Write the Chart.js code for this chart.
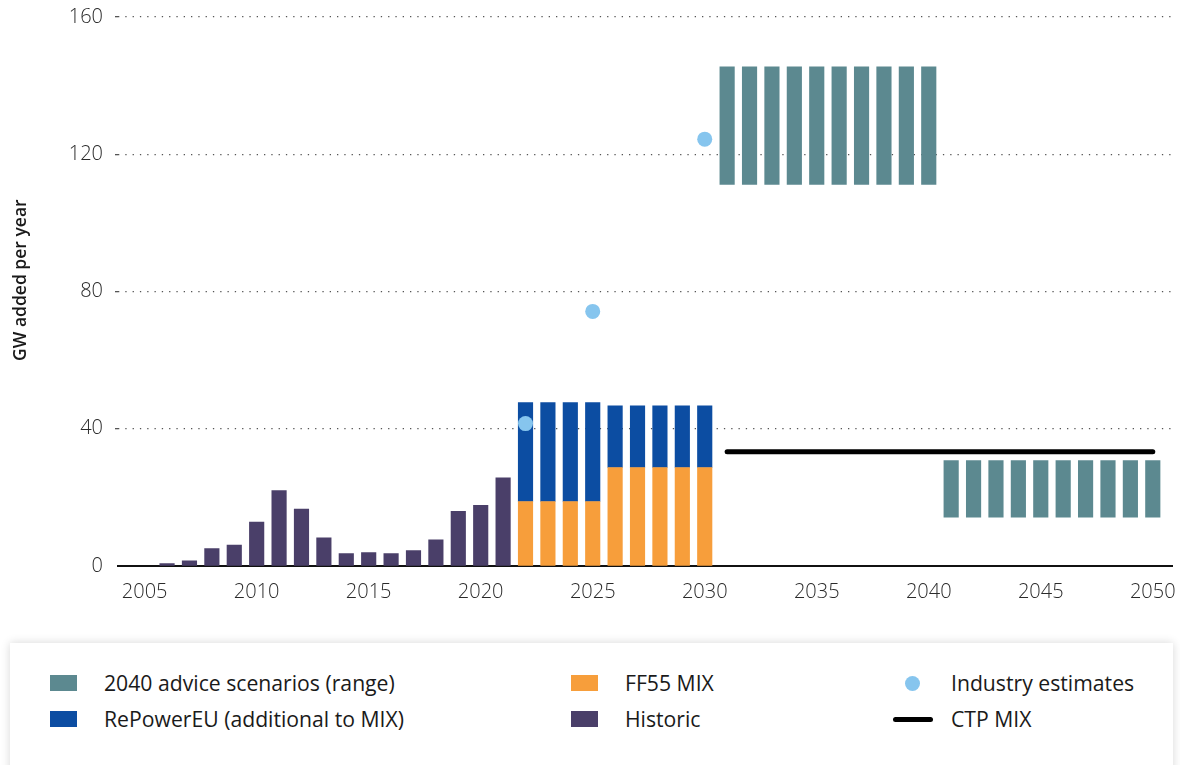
<!DOCTYPE html>
<html>
<head>
<meta charset="utf-8">
<script src="https://cdn.jsdelivr.net/npm/chart.js@4"></script>
<style>
  html, body { margin: 0; padding: 0; background: #fff; }
  body { width: 1180px; height: 765px; position: relative; overflow: hidden; font-family: "Open Sans", "Noto Sans", sans-serif; }
  #wrap { position: absolute; left: 0; top: 0; width: 1180px; height: 615px; }
  #legend { position: absolute; left: 10px; top: 643px; width: 1163px; height: 140px; background: #fff;
            box-shadow: 0 0 9px rgba(0,0,0,0.16); }
  .item { position: absolute; font-size: 21.2px; font-weight: 400; color: #1a1a1a; line-height: 26px; white-space: nowrap; }
  .sw { position: absolute; }
</style>
</head>
<body>
<div id="wrap"><canvas id="chart"></canvas></div>
<div id="legend"></div>
<script>
// categories / values (GW added per year)
var historicYears = [2006, 2007, 2008, 2009, 2010, 2011, 2012, 2013, 2014, 2015, 2016, 2017, 2018, 2019, 2020, 2021];
var historic = [0.7, 1.5, 5.1, 6.1, 12.8, 22.0, 16.6, 8.2, 3.6, 3.9, 3.6, 4.5, 7.6, 15.9, 17.7, 25.7];

var mixYears = [2022, 2023, 2024, 2025, 2026, 2027, 2028, 2029, 2030];
var ff55Mix = [18.8, 18.8, 18.8, 18.8, 28.7, 28.7, 28.7, 28.7, 28.7];
var rePowerEU = [28.8, 28.8, 28.8, 28.8, 18.0, 18.0, 18.0, 18.0, 18.0];

var adviceYears = [2031, 2032, 2033, 2034, 2035, 2036, 2037, 2038, 2039, 2040,
                   2041, 2042, 2043, 2044, 2045, 2046, 2047, 2048, 2049, 2050];
var adviceLow = [111.2, 111.2, 111.2, 111.2, 111.2, 111.2, 111.2, 111.2, 111.2, 111.2,
                 14.2, 14.2, 14.2, 14.2, 14.2, 14.2, 14.2, 14.2, 14.2, 14.2];
var adviceHigh = [145.5, 145.5, 145.5, 145.5, 145.5, 145.5, 145.5, 145.5, 145.5, 145.5,
                  30.7, 30.7, 30.7, 30.7, 30.7, 30.7, 30.7, 30.7, 30.7, 30.7];

var industryYears = [2022, 2025, 2030];
var industryEst = [41.5, 74.2, 124.4];

var ctpYears = [2031, 2050];
var ctpMix = [33.3, 33.3];

var xTicks = [2005, 2010, 2015, 2020, 2025, 2030, 2035, 2040, 2045, 2050];
var yTicks = [0, 40, 80, 120, 160];

var C_TEAL = '#5C8990', C_BLUE = '#0C4DA2', C_ORANGE = '#F79E3B', C_PURPLE = '#4A3F69', C_DOT = '#86C5EE';

function pts(xs, ys) { return xs.map(function (x, i) { return { x: x, y: ys[i] }; }); }

var barCommon = { barThickness: 14.5, grouped: false, borderWidth: 0, order: 2 };

var datasets = [
  Object.assign({ type: 'bar', label: 'Historic', data: pts(historicYears, historic),
    backgroundColor: C_PURPLE, stack: 'main' }, barCommon),
  Object.assign({ type: 'bar', label: 'FF55 MIX', data: pts(mixYears, ff55Mix),
    backgroundColor: C_ORANGE, stack: 'main' }, barCommon),
  Object.assign({ type: 'bar', label: 'RePowerEU (additional to MIX)', data: pts(mixYears, rePowerEU),
    backgroundColor: C_BLUE, stack: 'main' }, barCommon),
  Object.assign({ type: 'bar', label: '2040 advice scenarios (range)',
    data: adviceYears.map(function (y, i) { return { x: y, y: [adviceLow[i], adviceHigh[i]] }; }),
    backgroundColor: C_TEAL, stack: 'range' }, barCommon),
  { type: 'line', label: 'CTP MIX', data: pts(ctpYears, ctpMix), borderColor: '#000', borderWidth: 5,
    borderCapStyle: 'round', pointRadius: 0, fill: false, order: 1 },
  { type: 'line', label: 'Industry estimates', data: pts(industryYears, industryEst), showLine: false,
    pointRadius: 7.5, pointBackgroundColor: C_DOT, pointBorderWidth: 0, order: 0 }
];

var tickFont = { family: 'Open Sans', size: 20, weight: '300' };

var chart = new Chart(document.getElementById('chart'), {
  data: { datasets: datasets },
  options: {
    responsive: true,
    maintainAspectRatio: false,
    animation: false,
    layout: { padding: { top: 17, right: 2, bottom: 5, left: 0 } },
    plugins: { legend: { display: false }, tooltip: { enabled: false } },
    scales: {
      x: {
        type: 'linear',
        min: 2003.81,
        max: 2050.88,
        offset: false,
        stacked: true,
        afterBuildTicks: function (scale) { scale.ticks = xTicks.map(function (v) { return { value: v }; }); },
        afterFit: function (scale) { scale.paddingLeft = 0; scale.paddingRight = 0; },
        grid: { display: false },
        border: { display: true, color: '#111', width: 2 },
        ticks: { color: '#2a2a2a', font: tickFont, padding: 6, maxRotation: 0,
                 callback: function (v) { return String(v); } }
      },
      y: {
        min: 0,
        max: 160,
        stacked: true,
        afterBuildTicks: function (scale) { scale.ticks = yTicks.map(function (v) { return { value: v }; }); },
        afterFit: function (scale) { scale.width = 118; scale.paddingTop = 0; },
        grid: { color: function (ctx) { return ctx.tick && ctx.tick.value === 0 ? 'rgba(0,0,0,0)' : '#555'; },
                lineWidth: 1.3, tickLength: 3 },
        border: { display: false, dash: [1.3, 6] },
        ticks: { color: '#2a2a2a', font: tickFont, padding: 12 },
        title: { display: true, text: '     GW added per year', color: '#1a1a1a',
                 font: { family: 'Open Sans', size: 17.5, weight: '600' }, padding: { top: 11, bottom: 0 } }
      }
    }
  }
});

// legend laid out as in the reference: three columns, two rows
var legendSlots = [
  { label: '2040 advice scenarios (range)', left: 40, top: 40, kind: 'box' },
  { label: 'RePowerEU (additional to MIX)', left: 40, top: 76, kind: 'box' },
  { label: 'FF55 MIX', left: 561, top: 40, kind: 'box' },
  { label: 'Historic', left: 561, top: 76, kind: 'box' },
  { label: 'Industry estimates', left: 883, top: 40, kind: 'dot' },
  { label: 'CTP MIX', left: 883, top: 76, kind: 'line' }
];
var legendEl = document.getElementById('legend');
legendSlots.forEach(function (slot) {
  var ds = datasets.filter(function (d) { return d.label === slot.label; })[0];
  var sw = document.createElement('div');
  sw.className = 'sw';
  if (slot.kind === 'box') {
    sw.style.cssText = 'left:' + slot.left + 'px;top:' + (slot.top - 8) + 'px;width:27px;height:16px;background:' + ds.backgroundColor;
  } else if (slot.kind === 'dot') {
    sw.style.cssText = 'left:' + (slot.left + 12) + 'px;top:' + (slot.top - 7) + 'px;width:15px;height:15px;border-radius:50%;background:' + ds.pointBackgroundColor;
  } else {
    sw.style.cssText = 'left:' + slot.left + 'px;top:' + (slot.top - 2.5) + 'px;width:40px;height:5px;border-radius:3px;background:' + ds.borderColor;
  }
  legendEl.appendChild(sw);
  var tx = document.createElement('div');
  tx.className = 'item';
  tx.textContent = slot.label;
  tx.style.left = (slot.left + (slot.kind === 'box' ? 54 : 58)) + 'px';
  tx.style.top = (slot.top - 13) + 'px';
  legendEl.appendChild(tx);
});
</script>
</body>
</html>
